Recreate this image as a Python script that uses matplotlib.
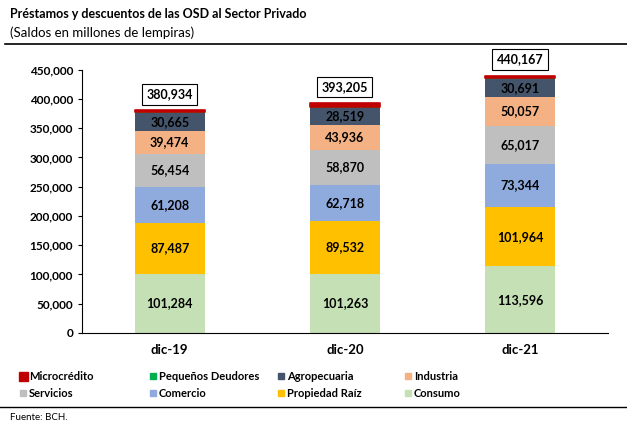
import numpy as np
import matplotlib.pyplot as plt
from matplotlib.patches import Rectangle
from matplotlib.lines import Line2D

plt.rcParams['font.family'] = ['Lato', 'DejaVu Sans']

years = ['dic-19', 'dic-20', 'dic-21']
consumo = [101284, 101263, 113596]
propiedad = [87487, 89532, 101964]
comercio = [61208, 62718, 73344]
servicios = [56454, 58870, 65017]
industria = [39474, 43936, 50057]
agropecuaria = [30665, 28519, 30691]
pequenos = [1262, 1700, 1398]
microcredito = [3100, 6667, 4100]
totals = [380934, 393205, 440167]

series = [
    ('Consumo', consumo, '#C5E0B4', True),
    ('Propiedad Raíz', propiedad, '#FFC000', True),
    ('Comercio', comercio, '#8FAADC', True),
    ('Servicios', servicios, '#BFBFBF', True),
    ('Industria', industria, '#F4B183', True),
    ('Agropecuaria', agropecuaria, '#44546A', True),
    ('Pequeños Deudores', pequenos, '#00B050', False),
    ('Microcrédito', microcredito, '#C00000', False),
]

fig = plt.figure(figsize=(6.27, 4.23), dpi=100)
ax = fig.add_axes([0.131, 0.213, 0.838, 0.622])

x = np.arange(len(years))
bottom = np.zeros(len(years))
for name, vals, color, lab in series:
    vals = np.array(vals)
    if name == 'Microcrédito':
        # red cap looks a bit wider than the bar in the source
        ax.bar(x, vals, 0.4, bottom=bottom, color=color, edgecolor=color,
               linewidth=1.2, joinstyle='round', zorder=3)
    else:
        ax.bar(x, vals, 0.4, bottom=bottom, color=color, edgecolor='none')
    if lab:
        for xi, b, v in zip(x, bottom, vals):
            ax.text(xi, b + v / 2, f'{v:,}', ha='center', va='center',
                    fontsize=9, fontweight='bold', color='black')
    bottom += vals

for xi, t in zip(x, totals):
    ax.annotate(f'{t:,}', (xi, t), xytext=(0, 11.5), textcoords='offset points',
                ha='center', va='center', fontsize=9, fontweight='bold',
                bbox=dict(boxstyle='square,pad=0.35', fc='white', ec='black', lw=0.8))

ax.set_xlim(-0.5, 2.5)
ax.set_ylim(0, 450000)
ax.set_yticks(np.arange(0, 450001, 50000))
ax.yaxis.set_major_formatter(plt.FuncFormatter(lambda v, p: f'{int(v):,}'))
ax.set_xticks(x)
ax.set_xticklabels(years, fontsize=9.5, fontweight='bold')
ax.tick_params(axis='x', length=0, pad=8)
ax.tick_params(axis='y', length=3, labelsize=8.5, direction='out')
for lbl in ax.get_yticklabels():
    lbl.set_fontweight('bold')
ax.spines['top'].set_visible(False)
ax.spines['right'].set_visible(False)
ax.spines['left'].set_linewidth(0.8)
ax.spines['bottom'].set_linewidth(0.8)

# title block
fig.text(10 / 627, 1 - 14 / 423, 'Préstamos y descuentos de las OSD al Sector Privado',
         fontsize=9, fontweight='bold', va='center')
fig.text(10 / 627, 1 - 33 / 423, '(Saldos en millones de lempiras)', fontsize=9.5, va='center')
fig.add_artist(Line2D([5 / 627, 1], [1 - 44 / 423] * 2, color='black', lw=1.2))

# legend (row-wise like the source)
legend_rows = [
    ['Microcrédito', 'Pequeños Deudores', 'Agropecuaria', 'Industria'],
    ['Servicios', 'Comercio', 'Propiedad Raíz', 'Consumo'],
]
colors = {name: c for name, _, c, _ in series}
col_x = [20, 150, 278, 405]
row_y = [376, 393]
for r, row in enumerate(legend_rows):
    for c, name in enumerate(row):
        px, py = col_x[c], row_y[r]
        s = 9 if name == 'Microcrédito' else 6
        fig.add_artist(Rectangle(((px + 3 - s / 2) / 627, 1 - (py + s / 2) / 423),
                                 s / 627, s / 423, color=colors[name],
                                 transform=fig.transFigure))
        fig.text((px + 9) / 627, 1 - py / 423, name, fontsize=8, fontweight='bold', va='center')

fig.add_artist(Line2D([0, 1], [1 - 407 / 423] * 2, color='black', lw=1.0))
fig.text(10 / 627, 1 - 417 / 423, 'Fuente: BCH.', fontsize=7, va='center')

fig.savefig('out.png', dpi=100)
